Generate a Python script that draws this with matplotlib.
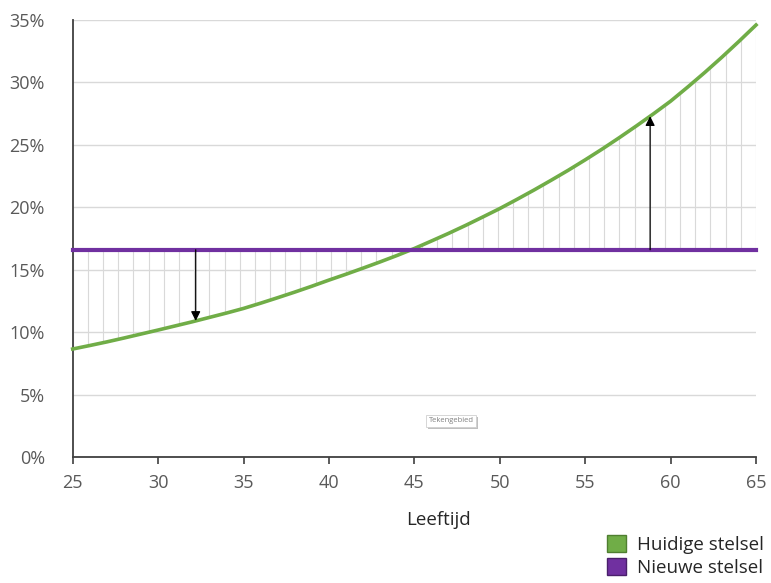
import numpy as np
import matplotlib
matplotlib.use("Agg")
import matplotlib.pyplot as plt
import matplotlib.patheffects as pe
from matplotlib.patches import Patch

# ages and premium rates (in %)
ages = list(range(25, 66))
huidige = [8.65, 8.93, 9.22, 9.53, 9.85, 10.17, 10.50, 10.83, 11.18, 11.53,
           11.90, 12.32, 12.76, 13.21, 13.68, 14.17, 14.64, 15.13, 15.63, 16.15,
           16.70, 17.30, 17.91, 18.55, 19.22, 19.90, 20.63, 21.38, 22.16, 22.96,
           23.80, 24.67, 25.58, 26.52, 27.49, 28.50, 29.63, 30.80, 32.02, 33.29,
           34.60]
nieuwe_ages = [25, 65]
nieuwe = [16.6, 16.6]
arrow_ages = [32.2, 58.8]
y_ticks = [0, 5, 10, 15, 20, 25, 30, 35]
x_ticks = [25, 30, 35, 40, 45, 50, 55, 60, 65]

GREEN = "#70AD47"
PURPLE = "#7030A0"
GRID = "#d9d9d9"
TXT = "#595959"

plt.rcParams['font.family'] = ['Open Sans', 'DejaVu Sans']

fig = plt.figure(figsize=(7.71, 5.83), dpi=100)
ax = fig.add_axes([0.0943, 0.2161, 0.8863, 0.7496])

# hatch lines between the two schemes
hatch_x = np.linspace(25, 65, 46)
hatch_top = np.interp(hatch_x, ages, huidige)
ax.vlines(hatch_x, hatch_top, nieuwe[0], colors=GRID, linewidth=0.8, zorder=1)

ax.plot(ages, huidige, color=GREEN, linewidth=2.6, zorder=3, clip_on=False)
ax.plot(nieuwe_ages, nieuwe, color=PURPLE, linewidth=3.0, zorder=4,
        solid_capstyle='projecting', clip_on=False)

# arrows showing the shift
for a in arrow_ages:
    target = np.interp(a, ages, huidige)
    ax.annotate("", xy=(a, target), xytext=(a, nieuwe[0]),
                arrowprops=dict(arrowstyle="-|>", color="black", lw=0.9,
                                mutation_scale=14, shrinkA=0, shrinkB=0),
                zorder=5)

ax.set_xlim(25, 65)
ax.set_ylim(0, 35)
ax.set_xticks(x_ticks)
ax.set_yticks(y_ticks)
ax.set_yticklabels([f"{v}%" for v in y_ticks])
ax.yaxis.grid(True, color=GRID, linewidth=1)
ax.set_axisbelow(True)
ax.tick_params(axis='y', length=0, pad=20, labelsize=13, labelcolor=TXT)
ax.tick_params(axis='x', length=5, width=1.2, color="#404040", pad=7,
               labelsize=13, labelcolor=TXT)
for s in ['top', 'right']:
    ax.spines[s].set_visible(False)
for s in ['left', 'bottom']:
    ax.spines[s].set_color("#404040")
    ax.spines[s].set_linewidth(1.3)

fig.text(438 / 771, 1 - 520 / 583, "Leeftijd", ha='center', va='center',
         fontsize=13.5, color="#262626")

# little "plot area" tooltip left in the screenshot
tip = ax.text(47.15, 2.9, "Tekengebied", fontsize=5.5, color="#808080",
              ha='center', va='center',
              bbox=dict(boxstyle="square,pad=0.35", fc="white", ec="#d0d0d0",
                        lw=0.6))
tip.get_bbox_patch().set_path_effects(
    [pe.SimplePatchShadow(offset=(1.5, -1.5), shadow_rgbFace="#b0b0b0", alpha=0.8),
     pe.Normal()])

handles = [Patch(facecolor=GREEN, edgecolor="#4f7f30", label="Huidige stelsel"),
           Patch(facecolor=PURPLE, edgecolor="#4a1f6b", label="Nieuwe stelsel")]
fig.legend(handles=handles, loc='lower right', bbox_to_anchor=(1.012, -0.018),
           frameon=False, fontsize=13.5, handlelength=1.0, handleheight=1.0,
           handletextpad=0.55, labelspacing=0.2, labelcolor="#262626")

fig.savefig("out.png", dpi=100)
